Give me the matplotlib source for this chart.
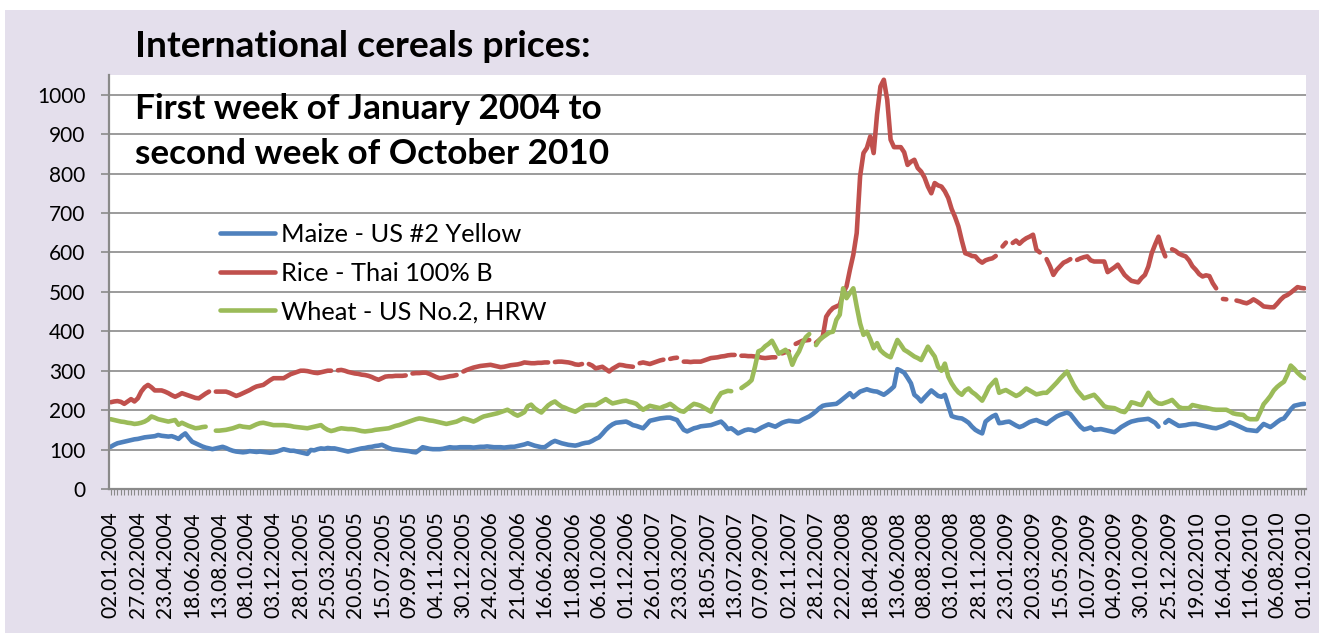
import numpy as np
import matplotlib
matplotlib.use("Agg")
import matplotlib.pyplot as plt
from matplotlib.patches import Rectangle
from matplotlib.ticker import FixedLocator, MultipleLocator

nan = np.nan

# weekly prices, first week Jan 2004 .. first week Oct 2010 (USD/t)
maize = [
    107, 112, 116, 118, 120, 122, 124, 126, 127, 129,
    131, 132, 133, 134, 137, 135, 134, 133, 134, 131,
    127, 135, 141, 130, 120, 116, 112, 108, 105, 103,
    101, 103, 105, 107, 104, 100, 97, 95, 94, 93,
    94, 96, 95, 94, 95, 94, 93, 92, 93, 95,
    98, 101, 99, 97, 97, 95, 93, 91, 89, 99,
    98, 101, 103, 102, 104, 103, 103, 101, 99, 97,
    95, 97, 99, 101, 103, 104, 106, 107, 109, 110,
    112, 108, 104, 101, 100, 99, 98, 97, 96, 94,
    93, 99, 106, 104, 102, 101, 101, 101, 102, 104,
    106, 105, 105, 106, 106, 106, 106, 105, 106, 107,
    107, 108, 107, 106, 106, 106, 105, 106, 107, 107,
    109, 111, 113, 116, 113, 110, 108, 106, 106, 112,
    118, 122, 119, 116, 114, 112, 111, 110, 112, 115,
    117, 118, 122, 127, 131, 140, 150, 158, 164, 168,
    169, 170, 171, 167, 162, 160, 157, 154, 163, 173,
    175, 177, 179, 180, 181, 181, 178, 175, 162, 150,
    146, 150, 154, 156, 159, 160, 161, 162, 165, 168,
    171, 163, 152, 154, 148, 141, 145, 149, 151, 150,
    147, 151, 156, 160, 164, 161, 158, 163, 168, 171,
    173, 172, 171, 171, 176, 180, 184, 190, 197, 205,
    211, 213, 214, 215, 216, 222, 229, 236, 243, 233,
    240, 247, 250, 253, 250, 248, 247, 243, 239, 245,
    252, 260, 304, 300, 295, 282, 268, 239, 232, 222,
    232, 241, 250, 243, 236, 234, 239, 212, 185, 182,
    180, 179, 174, 168, 158, 150, 145, 141, 171, 178,
    184, 188, 167, 168, 170, 171, 166, 161, 157, 160,
    165, 170, 173, 175, 171, 168, 165, 172, 178, 184,
    188, 191, 194, 190, 179, 168, 158, 151, 153, 156,
    150, 151, 152, 150, 148, 146, 144, 150, 157, 162,
    167, 171, 173, 175, 176, 177, 178, 173, 168, 158,
    nan, 168, 175, 170, 165, 160, 161, 162, 164, 165,
    165, 163, 161, 159, 157, 155, 154, 157, 160, 164,
    169, 166, 162, 158, 154, 150, 149, 148, 147, 156,
    165, 161, 157, 163, 170, 176, 179, 190, 202, 211,
    213, 215, 216,
]

rice = [
    220, 222, 223, 221, 216, 222, 228, 222, 230, 247,
    258, 264, 258, 250, 250, 250, 247, 243, 238, 234,
    238, 243, 240, 237, 234, 231, 230, 236, 242, 247,
    nan, 247, 247, 247, 247, 244, 240, 236, 239, 243,
    247, 251, 256, 260, 262, 264, 270, 276, 281, 281,
    281, 281, 286, 291, 294, 297, 300, 300, 299, 297,
    295, 294, 296, 298, 300, 300, nan, 301, 302, 300,
    297, 295, 293, 292, 290, 289, 287, 284, 280, 277,
    281, 285, 286, 286, 287, 287, 287, 288, nan, 293,
    294, 294, 295, 295, 292, 288, 284, 281, 282, 284,
    286, 287, 289, nan, 298, 302, 305, 308, 310, 312,
    313, 314, 315, 313, 311, 309, 310, 312, 314, 315,
    316, 318, 321, 320, 319, 319, 320, 320, 321, 321,
    nan, 322, 323, 323, 322, 321, 319, 316, 315, 317,
    nan, 317, 313, 306, 308, 310, 304, 298, 305, 310,
    315, 314, 312, 311, 310, nan, 319, 321, 319, 317,
    320, 323, 326, 328, nan, 330, 332, 333, nan, 323,
    323, 322, 323, 323, 323, 326, 329, 332, 333, 334,
    336, 337, 339, 340, 340, nan, 338, 338, 337, 337,
    336, 335, 333, 332, 333, 334, 334, nan, 344, 347,
    349, nan, 368, 372, 376, 377, 378, nan, 371, 378,
    387, 437, 450, 459, 463, 467, 497, 514, 556, 594,
    649, 793, 852, 865, 894, 852, 950, 1021, 1038, 987,
    886, 867, 867, 867, 854, 822, 830, 835, 814, 805,
    790, 767, 750, 776, 770, 767, 755, 738, 710, 690,
    666, 630, 598, 595, 591, 590, 580, 574, 580, 583,
    585, 591, nan, 615, 625, nan, 624, 630, 622, 630,
    636, 640, 645, 607, 600, nan, 583, 565, 543, 556,
    565, 574, 578, 583, nan, 581, 585, 588, 590, 580,
    577, 577, 577, 577, 550, 556, 562, 569, 556, 543,
    535, 528, 526, 524, 535, 543, 564, 598, 620, 640,
    612, 590, nan, 608, 604, 597, 593, 590, 580, 565,
    556, 545, 539, 542, 540, 522, 509, nan, 482, 481,
    nan, nan, 478, 476, 473, 471, 475, 481, 476, 470,
    463, 462, 461, 461, 470, 480, 488, 492, 498, 505,
    512, 510, 509,
]

wheat = [
    177, 175, 173, 171, 170, 168, 167, 165, 166, 168,
    171, 176, 184, 181, 177, 175, 173, 171, 173, 175,
    163, 168, 164, 160, 157, 154, 155, 157, 158, nan,
    nan, 148, 148, 149, 150, 152, 154, 157, 160, 158,
    157, 156, 160, 164, 167, 168, 166, 164, 162, 162,
    162, 162, 161, 160, 158, 157, 156, 155, 154, 156,
    158, 160, 162, 155, 150, 147, 149, 152, 154, 153,
    152, 152, 151, 149, 147, 146, 147, 148, 150, 151,
    152, 153, 154, 157, 160, 162, 165, 168, 171, 174,
    177, 179, 178, 176, 174, 173, 171, 169, 167, 165,
    167, 169, 171, 175, 179, 177, 174, 171, 175, 180,
    184, 186, 188, 190, 192, 195, 198, 201, 196, 190,
    186, 190, 195, 210, 214, 205, 199, 194, 203, 212,
    218, 222, 215, 209, 206, 202, 199, 196, 201, 207,
    212, 213, 213, 213, 218, 223, 228, 222, 217, 219,
    221, 223, 224, 221, 219, 216, 208, 201, 206, 211,
    209, 207, 205, 209, 212, 216, 210, 203, 198, 196,
    203, 210, 216, 214, 211, 206, 201, 196, 215, 230,
    243, 246, 249, 248, nan, nan, 256, 262, 268, 276,
    310, 349, 353, 362, 368, 376, 360, 343, 348, 353,
    343, 315, 335, 349, 370, 385, 393, nan, 365, 378,
    385, 391, 397, 399, 429, 442, 509, 484, 497, 509,
    463, 420, 391, 399, 380, 357, 370, 352, 344, 338,
    334, 356, 378, 366, 353, 348, 342, 336, 332, 327,
    344, 361, 348, 336, 310, 300, 318, 285, 268, 255,
    245, 239, 250, 255, 246, 240, 232, 224, 240, 258,
    268, 277, 244, 248, 251, 246, 241, 236, 240, 247,
    255, 250, 245, 240, 242, 244, 244, 252, 261, 270,
    280, 289, 298, 281, 264, 250, 240, 230, 233, 236,
    239, 230, 220, 210, 207, 206, 205, 201, 197, 195,
    205, 220, 218, 215, 213, 228, 244, 230, 222, 217,
    216, 219, 222, 226, 217, 208, 205, 205, 205, 213,
    211, 209, 207, 206, 204, 202, 201, 201, 201, 201,
    197, 192, 190, 189, 188, 180, 177, 177, 177, 195,
    215, 225, 236, 250, 259, 266, 272, 290, 313, 305,
    295, 287, 281,
]

# every 8th week is labelled on the category axis
date_labels = [
    "02.01.2004", "27.02.2004", "23.04.2004", "18.06.2004", "13.08.2004",
    "08.10.2004", "03.12.2004", "28.01.2005", "25.03.2005", "20.05.2005",
    "15.07.2005", "09.09.2005", "04.11.2005", "30.12.2005", "24.02.2006",
    "21.04.2006", "16.06.2006", "11.08.2006", "06.10.2006", "01.12.2006",
    "26.01.2007", "23.03.2007", "18.05.2007", "13.07.2007", "07.09.2007",
    "02.11.2007", "28.12.2007", "22.02.2008", "18.04.2008", "13.06.2008",
    "08.08.2008", "03.10.2008", "28.11.2008", "23.01.2009", "20.03.2009",
    "15.05.2009", "10.07.2009", "04.09.2009", "30.10.2009", "25.12.2009",
    "19.02.2010", "16.04.2010", "11.06.2010", "06.08.2010", "01.10.2010",
]
label_step = 8

series_names = ["Maize - US #2 Yellow", "Rice - Thai 100% B", "Wheat - US No.2, HRW"]
series_colors = ["#4F81BD", "#C0504D", "#9BBB59"]

BG = "#E4DFEC"
GRID = "#8A8A8A"


def main() -> None:
    plt.rcParams["font.family"] = ["Lato", "DejaVu Sans"]
    W, H = 1319, 637
    fig = plt.figure(figsize=(W / 100, H / 100), dpi=100, facecolor="white")
    fig.patches.append(Rectangle((5 / W, 1 - 633 / H), (W - 5) / W, 623 / H,
                                 transform=fig.transFigure, facecolor=BG,
                                 edgecolor="none", zorder=-10))

    ax = fig.add_axes([109 / W, 1 - 489 / H, (1306 - 109) / W, (489 - 75) / H])
    ax.set_facecolor("white")

    weeks = np.arange(len(maize))
    for vals, name, col in zip([maize, rice, wheat], series_names, series_colors):
        ax.plot(weeks, np.array(vals, dtype=float), color=col, lw=3.3, label=name,
                solid_capstyle="round", solid_joinstyle="round")

    ax.set_xlim(-0.5, len(maize) - 0.5)
    ax.set_ylim(0, 1050)
    ax.yaxis.set_major_locator(FixedLocator(np.arange(0, 1001, 100)))
    ax.grid(True, axis="y", color=GRID, lw=1.2)
    ax.set_axisbelow(True)

    ax.set_xticks(weeks[::label_step])
    ax.set_xticklabels(date_labels, rotation=90, fontsize=15)
    ax.xaxis.set_minor_locator(MultipleLocator(1))
    ax.tick_params(axis="x", which="both", length=4, width=0.8, color=GRID, pad=12)
    ax.tick_params(axis="y", length=6, width=1.2, color=GRID, labelsize=15, pad=11)

    for s in ["top", "right"]:
        ax.spines[s].set_visible(False)
    for s in ["left", "bottom"]:
        ax.spines[s].set_color(GRID)
        ax.spines[s].set_linewidth(1.6)

    leg = ax.legend(loc="upper left", bbox_to_anchor=((220 - 109) / (1306 - 109), 0.643),
                    frameon=False, fontsize=18.3, handlelength=2.15, handletextpad=0.25,
                    labelspacing=0.62, borderpad=0, borderaxespad=0)
    for line in leg.get_lines():
        line.set_linewidth(3.3)

    fig.text(135 / W, 1 - 57 / H, "International cereals prices:", fontsize=26.8,
             fontweight="bold", va="baseline")
    fig.text(135 / W, 1 - 119 / H, "First week of January 2004 to", fontsize=25.3,
             fontweight="bold", va="baseline")
    fig.text(135 / W, 1 - 164 / H, "second week of October 2010", fontsize=25.3,
             fontweight="bold", va="baseline")

    fig.savefig("out.png", dpi=100, facecolor="white")
    plt.close(fig)


if __name__ == "__main__":
    main()
